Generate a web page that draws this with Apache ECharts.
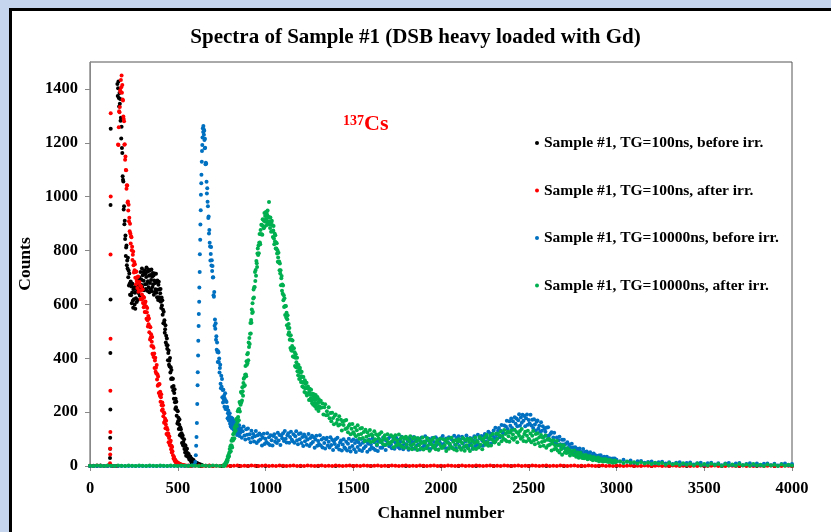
<!DOCTYPE html>
<html>
<head>
<meta charset="utf-8">
<script src="https://cdn.jsdelivr.net/npm/echarts/dist/echarts.min.js"></script>
<style>
  html, body { margin: 0; padding: 0; width: 831px; height: 532px; overflow: hidden; background: #c6d5ee; }
  #panel { position: absolute; left: 9px; top: 8px; width: 900px; height: 600px; background: #ffffff; border: 3px solid #000; }
  #chart { position: absolute; left: 0; top: 0; width: 831px; height: 532px; }
</style>
</head>
<body>
<div id="panel"></div>
<div id="chart"></div>
<script>
// ================= DATA =================
const seriesNames = [
  'Sample #1, TG=100ns, before irr.',
  'Sample #1, TG=100ns, after irr.',
  'Sample #1, TG=10000ns, before irr.',
  'Sample #1, TG=10000ns, after irr.'
];
const xTicks = [0, 500, 1000, 1500, 2000, 2500, 3000, 3500, 4000];
const yTicks = [0, 200, 400, 600, 800, 1000, 1200, 1400];

// ---- TG=100ns, before irr. (black) ----
const blackHead = [[0,0],[20,1],[40,0],[60,2],[80,0],[100,1],
  [114,30],[115,64],[115,105],[116,210],[116,420],[117,618],[117,969],[118,1252],[130,0],[140,0],[150,0]];
const blackMainStart = 156, blackMainStep = 2;   // channels 156..640
const blackMain = [
1418,1374,1403,1428,1366,1335,1385,1345,1363,1282,1293,1216,1260,1181,1162,1076,1063,1056,952,964,
898,911,843,856,780,811,819,745,763,733,773,701,726,670,715,677,636,678,685,634,
666,604,644,677,614,588,656,619,664,600,643,584,665,623,658,609,649,692,616,675,
642,699,662,699,632,690,720,656,692,672,733,665,708,655,720,688,653,713,727,675,
714,657,702,737,676,651,721,686,730,664,706,645,725,679,709,656,691,730,649,703,
665,717,675,707,636,689,715,646,679,656,714,643,683,627,689,654,616,673,684,627,
656,614,641,657,610,587,626,596,615,562,580,530,573,532,541,495,508,523,459,484,
449,473,435,448,393,420,429,376,391,369,401,347,367,323,356,326,293,324,324,280,
297,250,271,285,237,212,250,218,239,187,207,158,203,166,179,137,154,173,114,144,
118,136,111,122,85,105,113,77,89,75,99,63,78,50,76,58,38,62,65,38,
48,34,40,45,31,24,36,27,34,20,26,13,27,17,22,9,16,22,5,15,
14,8,11,13,7,5,11,6,10,4,7,2,7,3,6,2,4,6,1,4,1,3,2
];
const blackTail = [[660,1],[680,1],[700,0],[750,0],[800,0],[850,0],[900,0],[950,0],[1000,0],[1100,0],[1200,0],[1300,0],[1400,0],[1500,0],[1600,0],[1700,0],[1800,0],[1900,0],[2000,0],[2100,0],[2200,0],[2300,0],[2400,0],[2500,0],[2600,0],[2700,0],[2800,0],[2900,0],[3000,0],[3100,0],[3200,0],[3300,0],[3400,0],[3500,0],[3600,0],[3700,0],[3800,0],[3900,0],[4000,0]];

// ---- TG=100ns, after irr. (red) ----
const redHead = [[0,1],[20,0],[40,2],[60,1],[80,0],[100,1],
  [114,10],[115,43],[115,64],[116,126],[116,279],[117,472],[117,785],[118,1001],[118,1310],[130,0],[140,0],[150,0],[158,0]];
const redMainStart = 160, redMainStep = 2;   // channels 160..470
const redMain = [
1194,1192,1258,1317,1313,1333,1395,1388,1433,1406,1450,1386,1415,1361,1357,1298,1288,1280,1193,1195,
1137,1149,1099,1098,1029,1042,1041,978,982,949,970,909,922,872,899,863,826,853,849,801,
814,765,784,796,745,718,757,727,749,699,720,675,722,687,701,661,681,704,647,680,
652,683,652,670,620,652,666,618,637,619,655,605,628,589,626,601,572,607,611,571,
592,547,571,587,541,518,557,526,548,497,518,470,515,477,489,446,461,479,417,445,
412,439,404,418,364,392,402,350,365,343,375,321,341,298,332,303,271,303,304,261,
276,239,255,266,226,206,236,211,226,185,200,161,196,166,175,140,154,168,119,142,
119,135,113,121,88,104,110,79,88,75,94,62,75,50,71,55
];
const redTail = [[473,40],[476,28],[479,33],[482,20],[485,24],[488,14],[491,18],[494,11],[497,14],[500,8],[504,11],[508,6],[512,8],[516,4],[520,6],[525,3],[530,4],[535,2],[540,3],[550,1],[560,2],[570,0],
[580,0],[600,1],[620,2],[640,0],[660,1],[680,2],[700,0],[720,1],[740,0],[760,2],[780,1],[800,0],[820,1],[840,2],[860,0],[880,1],[900,0],[920,2],[940,1],[960,0],[980,1],[1000,2],[1020,0],[1040,1],[1060,0],[1080,2],[1100,1],[1120,0],[1140,1],[1160,2],[1180,0],[1200,1],[1220,0],[1240,2],[1260,1],[1280,0],[1300,1],[1320,2],[1340,0],[1360,1],[1380,0],[1400,2],[1420,1],[1440,0],[1460,1],[1480,2],[1500,0],[1520,1],[1540,0],[1560,2],[1580,1],[1600,0],[1620,1],[1640,2],[1660,0],[1680,1],[1700,0],[1720,2],[1740,1],[1760,0],[1780,1],[1800,2],[1820,0],[1840,1],[1860,0],[1880,2],[1900,1],[1920,0],[1940,1],[1960,2],[1980,0],[2000,1],[2020,0],[2040,2],[2060,1],[2080,0],[2100,1],[2120,2],[2140,0],[2160,1],[2180,0],[2200,2],[2220,1],[2240,0],[2260,1],[2280,2],[2300,0],[2320,1],[2340,0],[2360,2],[2380,1],[2400,0],[2420,1],[2440,2],[2460,0],[2480,1],[2500,0],[2520,2],[2540,1],[2560,0],[2580,1],[2600,2],[2620,0],[2640,1],[2660,0],[2680,2],[2700,1],[2720,0],[2740,1],[2760,2],[2780,0],[2800,1],[2820,0],[2840,2],[2860,1],[2880,0],[2900,1],[2920,2],[2940,0],[2960,1],[2980,0],[3000,2],[3020,1],[3040,0],[3060,1],[3080,2],[3100,0],[3120,1],[3140,0],[3160,2],[3180,1],[3200,0],[3220,1],[3240,2],[3260,0],[3280,1],[3300,0],[3320,2],[3340,1],[3360,0],[3380,1],[3400,2],[3420,0],[3440,1],[3460,0],[3480,2],[3500,1],[3520,0],[3540,1],[3560,2],[3580,0],[3600,1],[3620,0],[3640,2],[3660,1],[3680,0],[3700,1],[3720,2],[3740,0],[3760,1],[3780,0],[3800,2],[3820,1],[3840,0],[3860,1],[3880,2],[3900,0],[3920,1],[3940,0],[3960,2],[3980,1],[4000,0]];

// ---- TG=10000ns, before irr. (blue) ----
const blueHead = [[0,0],[20,0],[40,0],[60,0],[80,0],[100,0],[120,0],[140,0],[160,0],[180,0],[200,0],[220,0],[240,0],[260,0],[280,0],[300,0],[320,0],[340,0],[360,0],[380,0],[400,0],[420,0],[440,0],[460,0],[480,0],[500,0],[520,0],[540,0],[560,1],[580,2],[590,2],
[595,5],[600,15],[603,40],[605,75],[607,108],[609,160],[611,230],[613,300],[614,348],[616,410],[617,465],[619,520],[620,564],[622,610],[623,663],[625,720],[626,786],[628,840],[629,897],[631,950],[632,1007],[634,1050],[635,1081],[637,1130],[638,1170],[640,1192],[641,1220],[643,1254],[645,1240],[646,1262],[648,1250],[649,1230],[651,1245],[652,1210],[654,1180],[655,1215]];
const bluePeakStart = 656, bluePeakStep = 2;   // channels 656..858
const bluePeak = [
1182,1120,1126,1122,1055,1012,1031,981,964,921,926,863,876,829,815,763,787,813,744,764,
724,743,700,701,634,628,646,521,544,510,530,469,482,432,459,423,386,426,421,386,
399,347,364,376,305,289,335,294,323,255,282,236,283,247,261,220,250,270,212,242,
216,238,211,219,177,196,206,171,186,168,196,157,175,147,180,160,141,173,176,146,
164,135,154,168,138,126,158,140,156,126,144,115,151,129,142,119,131,151,111,136,123,133
];
const bluePlateauStart = 860, bluePlateauStep = 5;   // channels 860..3000
const bluePlateau = [
139,105,129,147,113,98,136,116,139,101,118,88,131,105,119,91,110,130,85,114,
93,121,98,115,76,105,120,82,101,89,122,84,107,78,114,96,76,111,118,90,
104,85,123,95,115,78,113,103,122,93,130,101,87,114,122,86,108,127,97,92,
118,86,110,129,96,81,119,99,122,85,108,74,117,92,108,79,98,119,74,104,
83,112,89,107,68,98,112,75,93,82,114,76,98,69,104,85,65,99,105,76,
90,69,107,78,97,59,92,82,99,70,105,76,61,87,95,58,80,99,69,64,
90,58,83,101,68,54,93,74,98,62,85,52,96,71,88,59,79,100,56,86,
66,95,73,91,53,83,98,61,81,70,103,65,88,59,94,76,56,90,97,68,
88,68,106,77,97,59,94,84,102,73,109,80,66,92,100,64,86,105,76,71,
97,65,90,109,76,62,101,82,106,70,93,60,104,79,96,67,87,108,64,94,
74,103,81,99,61,91,106,69,88,77,110,72,95,66,101,83,63,97,104,75,
89,69,107,78,99,61,95,85,103,74,111,82,68,94,102,66,88,107,78,73,
99,67,93,112,79,65,104,86,110,74,97,65,109,84,101,72,92,113,69,99,
75,104,83,101,64,94,110,73,93,82,116,79,103,75,111,94,75,110,119,91,
106,87,127,99,121,84,120,112,132,104,142,115,103,131,141,107,131,152,125,122,
150,120,147,168,137,125,166,149,176,141,166,135,181,157,176,148,170,192,149,180,
161,190,168,186,148,177,191,153,171,158,190,150,172,141,174,154,132,164,169,138,
149,127,162,131,148,108,139,127,142,111,144,113,96,120,125,87,106,123,91,84,
106,78,96,109,81,68,97,80,97,66,82,55,88,67,79,54,68,83,46,69,
53,70,55,64,41,58,65,41,52,44,63,39,52,34,54,42,29,48,51,33,
40,32,46,33,40,24,37,33,39,26,40,28,21,31,34,19,27,34,22,19,
29,20,27,18,28,20,28,18,23
];
const blueTail = [[3020,17],[3040,23],[3060,16],[3080,20],[3100,12],[3120,18],[3140,19],[3160,12],[3180,15],[3200,17],[3220,10],[3240,14],[3260,16],[3280,9],[3300,14],[3320,7],[3340,12],[3360,14],[3380,7],[3400,11],[3420,13],[3440,6],[3460,10],[3480,12],[3500,5],[3520,10],[3540,12],[3560,6],[3580,10],[3600,3],[3620,9],[3640,11],[3660,4],[3680,9],[3700,11],[3720,3],[3740,7],[3760,10],[3780,4],[3800,9],[3820,3],[3840,8],[3860,9],[3880,3],[3900,8],[3920,2],[3940,7],[3960,9],[3980,3],[4000,7]];

// ---- TG=10000ns, after irr. (green) ----
const greenHead = [[0,1],[20,0],[40,2],[60,1],[80,0],[100,2],[120,1],[140,0],[160,2],[180,1],[200,0],[220,2],[240,1],[260,0],[280,2],[300,1],[320,0],[340,2],[360,1],[380,0],[400,2],[420,1],[440,0],[460,2],[480,1],[500,0],[520,2],[540,1],[560,0],[580,2],[600,1],[620,0],[640,2],[660,1],[680,0],[700,2],[720,1],[740,0],[760,1]];
const greenPeakStart = 762, greenPeakStep = 2;   // channels 762..1308
const greenPeak = [
3,0,4,7,4,5,13,12,19,14,25,20,36,32,42,36,50,63,52,
73,55,77,94,74,69,102,95,118,98,121,103,141,129,147,132,152,174,148,176,
162,203,182,210,170,212,238,202,233,227,275,236,271,243,292,278,261,308,324,296,
329,300,339,371,340,333,389,376,415,382,
420,393,459,442,475,453,491,531,492,542,
532,581,568,604,572,622,655,626,664,665,720,687,728,706,761,753,739,789,808,783,
819,790,829,861,830,823,876,860,896,860,895,859,916,890,914,883,910,939,889,928,
907,943,917,940,895,932,949,903,925,909,980,898,923,884,923,898,870,906,911,872,
894,850,874,891,845,823,863,834,857,808,830,808,827,789,801,758,774,792,756,759,
727,752,715,727,671,697,705,651,674,640,
670,615,634,590,623,593,561,593,594,551,
569,523,545,560,512,488,527,497,512,469,484,438,485,431,469,428,446,466,407,437,
407,437,405,422,371,402,415,367,385,367,402,352,376,337,375,350,323,359,365,326,
347,312,333,350,312,295,331,309,330,291,311,275,318,289,304,271,290,309,262,289,
267,295,270,286,245,274,287,246,265,252,283,242,265,233,268,247,227,259,266,234,
255,222,245,264,228,213,251,231,256,216,238,204,248,222,238
];
const greenPlateauStart = 1310, greenPlateauStep = 5;   // channels 1310..3000
const greenPlateau = [
215,242,217,232,191,218,229,188,203,189,218,177,197,166,198,178,155,187,191,160,
172,150,185,154,172,132,164,152,168,137,171,141,125,149,155,118,138,156,125,119,
143,110,133,151,116,101,139,119,141,104,126,92,135,109,125,95,114,134,89,118,
112,92,129,99,118,80,113,102,119,90,125,96,81,107,114,78,99,118,88,83,
85,114,91,109,70,100,114,77,95,84,117,79,101,72,107,89,68,102,109,80,
99,66,91,110,77,62,101,82,106,69,92,59,103,77,94,65,85,106,61,91,
86,66,104,75,95,57,90,80,98,69,105,76,62,88,96,60,82,101,72,67,
70,99,77,94,56,86,101,64,83,72,105,67,90,61,96,78,58,92,99,70,
92,60,85,104,71,57,96,77,101,65,89,56,100,76,93,64,85,106,63,93,
89,69,108,79,100,62,97,88,107,79,116,88,75,102,111,76,99,119,91,87,
91,121,100,119,82,112,128,92,111,101,134,97,120,92,127,110,90,124,132,103,
117,97,135,106,126,88,122,112,130,101,137,108,93,119,127,91,112,131,101,96,
121,88,112,130,96,81,119,99,122,85,107,73,115,89,105,75,93,113,68,97,
76,101,79,95,58,84,96,62,77,66,93,58,77,50,79,62,42,72,77,50,
60,48,66,50,60,39,55,49,56,41,58,42,34,47,50,31,40,49,33,30,
40,29,36,41,30,25,36,30,36,25,30,21,33,25,29,21,26,32,18,27,
26,19,24,17,25,19,25,17,20,15,22,16,20,13,19,13,20,14,17
];
const greenTail = [[3020,17],[3040,11],[3060,17],[3080,12],[3100,14],[3120,9],[3140,14],[3160,9],[3180,12],[3200,7],[3220,12],[3240,8],[3260,11],[3280,5],[3300,11],[3320,6],[3340,9],[3360,4],[3380,10],[3400,5],[3420,8],[3440,3],[3460,9],[3480,3],[3500,7],[3520,2],[3540,8],[3560,4],[3580,7],[3600,1],[3620,7],[3640,2],[3660,6],[3680,1],[3700,7],[3720,3],[3740,6],[3760,1],[3780,7],[3800,2],[3820,5],[3840,0],[3860,6],[3880,2],[3900,5],[3920,0],[3940,6],[3960,1],[3980,5],[4000,2]];

const seriesColors = ['#000000', '#ff0000', '#0070c0', '#00b050'];

// ================= BUILD =================
function run(start, step, counts) {
  return counts.map(function (c, i) { return [start + i * step, c]; });
}
const seriesData = [
  blackHead.concat(run(blackMainStart, blackMainStep, blackMain), blackTail),
  redHead.concat(run(redMainStart, redMainStep, redMain), redTail),
  blueHead.concat(run(bluePeakStart, bluePeakStep, bluePeak), run(bluePlateauStart, bluePlateauStep, bluePlateau), blueTail),
  greenHead.concat(run(greenPeakStart, greenPeakStep, greenPeak), run(greenPlateauStart, greenPlateauStep, greenPlateau), greenTail)
];

const FONT = "'Liberation Serif', 'Times New Roman', serif";
const chart = echarts.init(document.getElementById('chart'), null, { renderer: 'canvas' });

chart.setOption({
  animation: false,
  backgroundColor: 'transparent',
  title: {
    text: 'Spectra of Sample #1 (DSB heavy loaded with Gd)',
    left: 'center',
    top: 22,
    textStyle: { fontFamily: FONT, fontWeight: 'bold', fontSize: 21, color: '#000' }
  },
  grid: {
    left: 90, right: 39, top: 62, bottom: 66,
    show: true, borderColor: '#555', borderWidth: 1, backgroundColor: 'transparent'
  },
  legend: {
    orient: 'vertical',
    left: 535,
    top: 135,
    padding: 0,
    itemWidth: 4,
    itemHeight: 4,
    itemGap: 31.5,
    icon: 'circle',
    textStyle: { fontFamily: FONT, fontWeight: 'bold', fontSize: 15.5, color: '#000', lineHeight: 15 },
    data: seriesNames
  },
  xAxis: {
    type: 'value',
    min: xTicks[0], max: xTicks[xTicks.length - 1], interval: 500,
    name: 'Channel number',
    nameLocation: 'middle',
    nameGap: 38,
    nameTextStyle: { fontFamily: FONT, fontWeight: 'bold', fontSize: 17.5, color: '#000' },
    axisLine: { show: true, lineStyle: { color: '#888' } },
    axisTick: { show: true, length: 5, inside: false, lineStyle: { color: '#888' } },
    axisLabel: {
      margin: 14, fontFamily: FONT, fontWeight: 'bold', fontSize: 16.5, color: '#000',
      formatter: function (v) { return xTicks.indexOf(v) >= 0 ? String(v) : ''; }
    },
    splitLine: { show: false }
  },
  yAxis: {
    type: 'value',
    min: 0, max: 1500, interval: 200,
    name: 'Counts',
    nameLocation: 'middle',
    nameGap: 53,
    nameTextStyle: { fontFamily: FONT, fontWeight: 'bold', fontSize: 17.5, color: '#000' },
    axisLine: { show: true, lineStyle: { color: '#888' } },
    axisTick: { show: true, length: 5, inside: false, lineStyle: { color: '#888' } },
    axisLabel: {
      margin: 12, fontFamily: FONT, fontWeight: 'bold', fontSize: 16.5, color: '#000',
      showMaxLabel: false,
      formatter: function (v) { return yTicks.indexOf(v) >= 0 ? String(v) : ''; }
    },
    splitLine: { show: false }
  },
  graphic: [
    { type: 'text', left: 343, top: 114, silent: true,
      style: { text: '137', fill: '#ff0000', font: 'bold 14px ' + FONT } },
    { type: 'text', left: 364, top: 113, silent: true,
      style: { text: 'Cs', fill: '#ff0000', font: 'bold 22px ' + FONT } }
  ],
  series: seriesNames.map(function (name, i) {
    return {
      name: name,
      type: 'scatter',
      data: seriesData[i],
      symbol: 'circle',
      symbolSize: 4,
      itemStyle: { color: seriesColors[i], opacity: 1 },
      emphasis: { disabled: true },
      z: 2 + i
    };
  })
});
</script>
</body>
</html>
